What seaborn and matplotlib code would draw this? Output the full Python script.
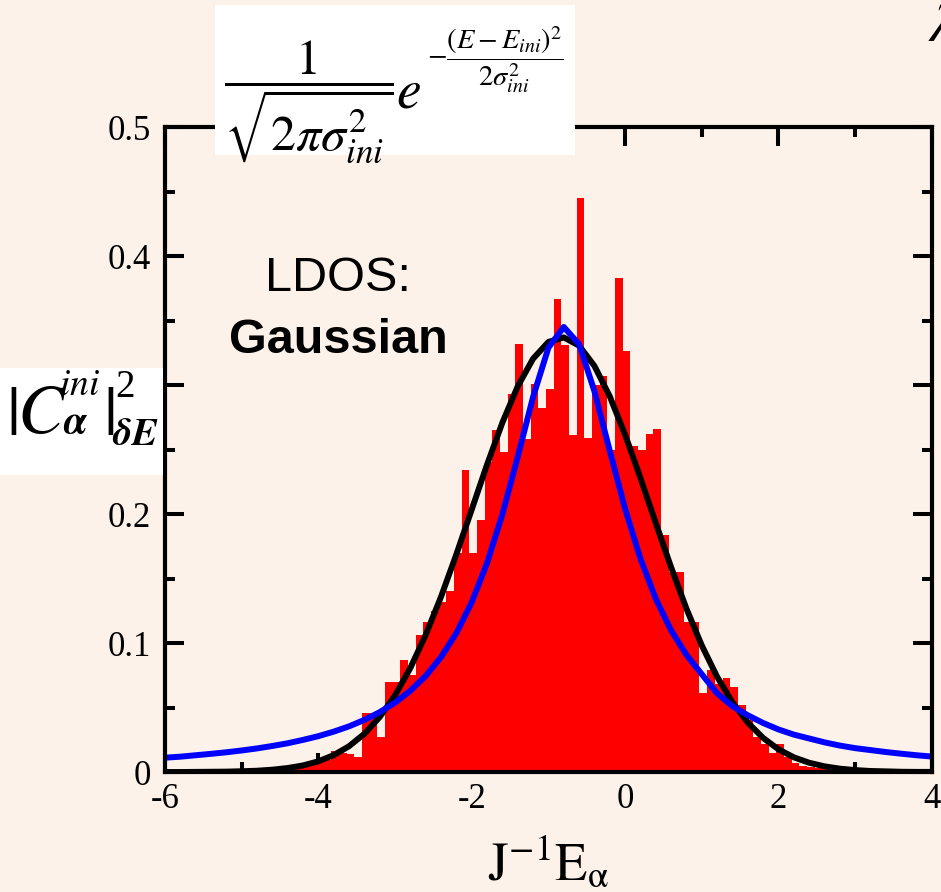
import numpy as np
import pandas as pd
import matplotlib
matplotlib.use('Agg')
import matplotlib.pyplot as plt
import seaborn as sns
from matplotlib.patches import Rectangle

# histogram of |C|^2 per energy window, bins of width 0.1 starting at -4.93
hist_start = -4.93
hist_width = 0.1
hist_heights = [
    0.001, 0.001, 0.001, 0.001, 0.002, 0.002, 0.003, 0.004, 0.006, 0.008, 0.009,
    0.016, 0.015, 0.014, 0.012, 0.046, 0.046, 0.027, 0.070, 0.070, 0.087, 0.075,
    0.106, 0.116, 0.125, 0.132, 0.140, 0.170, 0.234, 0.170, 0.195, 0.240, 0.265,
    0.248, 0.293, 0.332, 0.258, 0.301, 0.282, 0.297, 0.367, 0.331, 0.261, 0.445,
    0.259, 0.300, 0.307, 0.250, 0.383, 0.326, 0.253, 0.250, 0.262, 0.266, 0.184,
    0.155, 0.155, 0.116, 0.116, 0.061, 0.079, 0.068, 0.073, 0.066, 0.052, 0.040,
    0.027, 0.022, 0.015, 0.022, 0.012, 0.007, 0.005, 0.004, 0.003, 0.002, 0.001, 0.001,
]

# curves
curve_x = [
    -6.0, -5.8, -5.6, -5.4, -5.2, -5.0, -4.8, -4.6, -4.4, -4.2, -4.0, -3.8, -3.6,
    -3.4, -3.2, -3.0, -2.8, -2.6, -2.4, -2.2, -2.0, -1.8, -1.6, -1.4, -1.2, -1.0,
    -0.8, -0.6, -0.4, -0.2, 0.0, 0.2, 0.4, 0.6, 0.8, 1.0, 1.2, 1.4, 1.6, 1.8, 2.0,
    2.2, 2.4, 2.6, 2.8, 3.0, 3.2, 3.4, 3.6, 3.8, 4.0,
]
gauss_y = [
    0.0000, 0.0000, 0.0001, 0.0002, 0.0003, 0.0006, 0.0010, 0.0018, 0.0031, 0.0051,
    0.0083, 0.0131, 0.0200, 0.0296, 0.0426, 0.0594, 0.0807, 0.1063, 0.1359, 0.1688,
    0.2035, 0.2383, 0.2709, 0.2990, 0.3204, 0.3334, 0.3369, 0.3305, 0.3148, 0.2912,
    0.2615, 0.2280, 0.1930, 0.1587, 0.1266, 0.0981, 0.0738, 0.0540, 0.0383, 0.0264,
    0.0176, 0.0114, 0.0072, 0.0044, 0.0026, 0.0015, 0.0008, 0.0005, 0.0002, 0.0001,
    0.0001,
]
lorentz_y = [
    0.0111, 0.0119, 0.0130, 0.0141, 0.0153, 0.0167, 0.0183, 0.0202, 0.0223, 0.0249,
    0.0278, 0.0313, 0.0354, 0.0404, 0.0464, 0.0538, 0.0630, 0.0745, 0.0891, 0.1077,
    0.1316, 0.1620, 0.1998, 0.2443, 0.2908, 0.3289, 0.3450, 0.3317, 0.2952, 0.2490,
    0.2040, 0.1654, 0.1343, 0.1098, 0.0908, 0.0758, 0.0610, 0.0510, 0.0440, 0.0380,
    0.0330, 0.0290, 0.0260, 0.0230, 0.0205, 0.0185, 0.0170, 0.0155, 0.0142, 0.0130,
    0.0120,
]

x_ticks = [-6, -4, -2, 0, 2, 4]
y_ticks = [0, 0.1, 0.2, 0.3, 0.4, 0.5]
y_ticklabels = ['0', '0.1', '0.2', '0.3', '0.4', '0.5']

bg = '#fcf2ea'
W, H = 941, 892


def px(x, y):
    # pixel position (from top-left) -> figure fraction
    return x / W, 1 - y / H


sns.set_style('ticks')
plt.rcParams['font.family'] = ['Liberation Serif', 'DejaVu Serif']
plt.rcParams['mathtext.fontset'] = 'stix'
plt.rcParams['axes.unicode_minus'] = False
for k in ['text.color', 'axes.labelcolor', 'xtick.color', 'ytick.color']:
    plt.rcParams[k] = 'black'

edges = np.round(hist_start + hist_width * np.arange(len(hist_heights) + 1), 2)
hist_df = pd.DataFrame({'E': (edges[:-1] + edges[1:]) / 2, 'w': hist_heights})

fig = plt.figure(figsize=(9.41, 8.92), dpi=100, facecolor=bg)
ax = fig.add_axes([0.1753, 0.1345, 0.815, 0.7231])
ax.set_facecolor(bg)

sns.histplot(data=hist_df, x='E', weights='w', bins=list(edges), element='step',
             fill=True, color='#ff0000', alpha=1, linewidth=0, ax=ax)
sns.lineplot(x=curve_x, y=gauss_y, color='black', linewidth=4.3, ax=ax)
sns.lineplot(x=curve_x, y=lorentz_y, color='#0000ff', linewidth=4.3, ax=ax)

ax.set_xlim(-6, 4)
ax.set_ylim(0, 0.5)
ax.set_xticks(x_ticks)
ax.set_xticklabels([str(t) for t in x_ticks])
ax.set_yticks(y_ticks)
ax.set_yticklabels(y_ticklabels)
ax.set_xticks([-5, -3, -1, 1, 3], minor=True)
ax.set_yticks([0.05, 0.15, 0.25, 0.35, 0.45], minor=True)
ax.tick_params(which='both', direction='in', top=True, right=True,
               width=2.9, color='black', labelsize=25)
ax.tick_params(axis='x', which='both', pad=8)
ax.tick_params(axis='y', which='both', pad=10)
ax.tick_params(which='major', length=14)
ax.tick_params(which='minor', length=7)
for s in ax.spines.values():
    s.set_linewidth(3)
    s.set_color('black')
ax.set_ylabel('')
ax.set_xlabel(r'$\mathrm{J}^{\mathrm{-1}}\mathrm{E}_{\mathrm{\alpha}}$', fontsize=38)
ax.xaxis.set_label_coords(0.5, -0.167)
ax.xaxis.label.set_verticalalignment('baseline')

ax.text(-3.74, 0.373, 'LDOS:', family='Liberation Sans', fontsize=35,
        ha='center', va='baseline')
ax.text(-3.74, 0.325, 'Gaussian', family='Liberation Sans', fontsize=35,
        fontweight='bold', ha='center', va='baseline')

# white box with the Gaussian formula
fig.add_artist(Rectangle(px(215, 155), 360 / W, 150 / H, transform=fig.transFigure,
                         facecolor='white', edgecolor='none', zorder=2))
fig.text(*px(309, 102), r'$\dfrac{1}{\sqrt{2\pi\sigma_{ini}^{2}}}$',
         fontsize=36, ha='center', va='center', zorder=3)
fig.text(*px(396, 107), r'$e$', fontsize=40, ha='left', va='baseline', zorder=3)
fig.text(*px(427, 60), r'$-\dfrac{(E-E_{ini})^{2}}{2\sigma_{ini}^{2}}$',
         fontsize=20.5, ha='left', va='center', zorder=3)

# white box with the y label |C_alpha^ini|^2_dE
fig.add_artist(Rectangle(px(0, 475), 163 / W, 107 / H, transform=fig.transFigure,
                         facecolor='white', edgecolor='none', zorder=2))
fig.text(*px(12, 418), r'$|$', fontsize=50, ha='center', va='center', zorder=3)
fig.text(*px(17, 433), r'$C$', fontsize=50, ha='left', va='baseline', zorder=3)
fig.text(*px(59, 395), r'$ini$', fontsize=27, ha='left', va='baseline', zorder=3)
fig.text(*px(63, 433), r'$\boldsymbol{\alpha}$', fontsize=29, ha='left',
         va='baseline', zorder=3)
fig.text(*px(109, 418), r'$|$', fontsize=50, ha='center', va='center', zorder=3)
fig.text(*px(115, 397), '2', fontsize=28, ha='left', va='baseline', zorder=3)
fig.text(*px(112, 445), r'$\boldsymbol{\delta}\boldsymbol{E}$', fontsize=28,
         ha='left', va='baseline', zorder=3)

fig.text(*px(928, 27), r'$\lambda$', fontsize=40, ha='left', va='center')

fig.savefig('out.png', dpi=100, facecolor=bg)
